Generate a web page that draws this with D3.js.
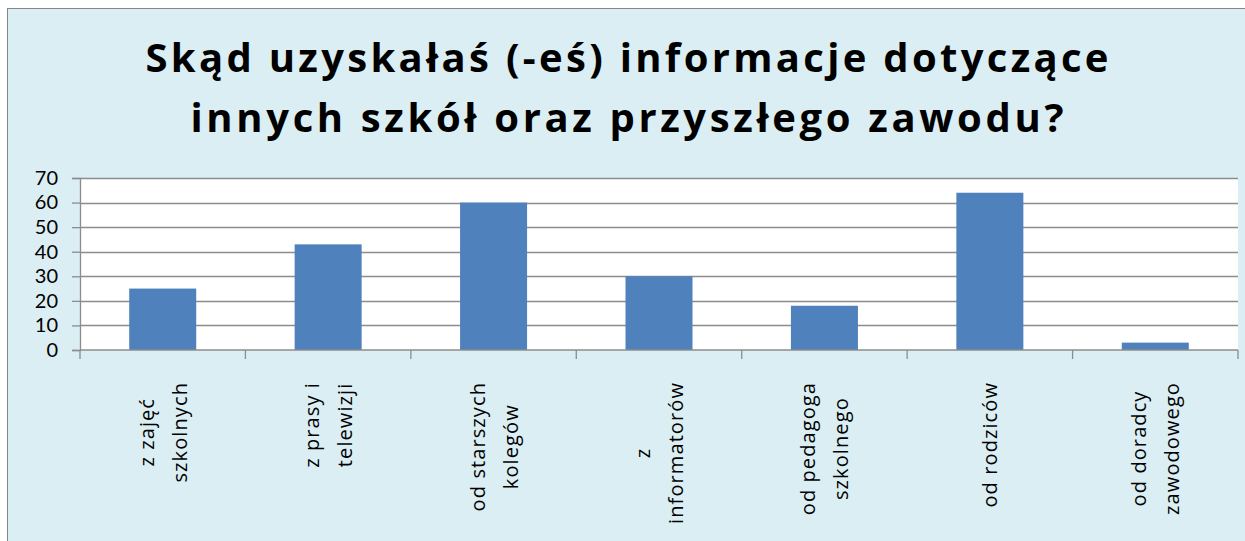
<!DOCTYPE html>
<html>
<head>
<meta charset="utf-8">
<script src="https://cdn.jsdelivr.net/npm/d3@7"></script>
<style>
  html, body { margin: 0; padding: 0; background: #ffffff; }
  svg { display: block; }
</style>
</head>
<body>
<svg id="chart" width="1245" height="541"></svg>
<script>
const titleLines = ["Skąd uzyskałaś (-eś) informacje dotyczące", "innych szkół oraz przyszłego zawodu?"];
const categories = ["z zajęć szkolnych", "z prasy i telewizji", "od starszych kolegów", "z informatorów", "od pedagoga szkolnego", "od rodziców", "od doradcy zawodowego"];
const labelLines = [["z zajęć", "szkolnych"], ["z prasy i", "telewizji"], ["od starszych", "kolegów"], ["z", "informatorów"], ["od pedagoga", "szkolnego"], ["od rodziców"], ["od doradcy", "zawodowego"]];
const values = [25, 43, 60, 30, 18, 64, 3];
const yTicks = [0, 10, 20, 30, 40, 50, 60, 70];

const svg = d3.select("#chart");
const W = 1245, H = 541;
const plot = { left: 80, right: 1238, top: 178, bottom: 350 };

// chart background + border
svg.append("rect").attr("x", 7.5).attr("y", 8.5).attr("width", W).attr("height", H)
  .attr("fill", "#DAEEF3").attr("stroke", "#868686").attr("stroke-width", 1);

// title
const title = svg.append("g");
const titleY = [72, 132];
const titleLen = [963, 873];
titleLines.forEach((t, i) => {
  title.append("text")
    .attr("x", 627).attr("y", titleY[i])
    .attr("text-anchor", "middle")
    .attr("font-family", "'Open Sans', sans-serif")
    .attr("font-weight", 700)
    .attr("font-size", 40)
    .attr("fill", "#000")
    .attr("textLength", titleLen[i])
    .attr("lengthAdjust", "spacing")
    .text(t);
});

// scales
const x = d3.scaleBand().domain(categories).range([plot.left, plot.right])
  .paddingInner(0.595).paddingOuter(0.2975);
const y = d3.scaleLinear().domain([0, 70]).range([plot.bottom, plot.top]);

// plot area
svg.append("rect").attr("x", plot.left).attr("y", plot.top)
  .attr("width", plot.right - plot.left).attr("height", plot.bottom - plot.top)
  .attr("fill", "#ffffff");

// gridlines
svg.append("g").selectAll("line").data(yTicks.filter(d => d > 0)).join("line")
  .attr("x1", plot.left).attr("x2", plot.right)
  .attr("y1", d => Math.round(y(d)) + 0.5).attr("y2", d => Math.round(y(d)) + 0.5)
  .attr("stroke", "#8C8C8C").attr("stroke-width", 1.3);

// bars
svg.append("g").selectAll("rect").data(values).join("rect")
  .attr("x", (d, i) => x(categories[i]))
  .attr("width", x.bandwidth())
  .attr("y", d => y(d))
  .attr("height", d => y(0) - y(d))
  .attr("fill", "#4F81BD");

// y axis
const yAxis = d3.axisLeft(y).tickValues(yTicks).tickSize(8).tickPadding(14);
const gy = svg.append("g").attr("transform", `translate(${plot.left},0)`).call(yAxis);
gy.select(".domain").attr("stroke", "#8C8C8C").attr("stroke-width", 1.3);
gy.selectAll(".tick line").attr("stroke", "#8C8C8C").attr("stroke-width", 1.3);
gy.selectAll(".tick text").attr("font-family", "Lato, sans-serif")
  .attr("font-size", 20).attr("fill", "#000");

// x axis line with boundary ticks
const step = x.step();
const boundaries = d3.range(categories.length + 1).map(i => plot.left + i * step);
svg.append("line").attr("x1", plot.left).attr("x2", plot.right)
  .attr("y1", plot.bottom).attr("y2", plot.bottom)
  .attr("stroke", "#8C8C8C").attr("stroke-width", 1.5);
svg.append("g").selectAll("line").data(boundaries).join("line")
  .attr("x1", d => d).attr("x2", d => d)
  .attr("y1", plot.bottom).attr("y2", plot.bottom + 9)
  .attr("stroke", "#8C8C8C").attr("stroke-width", 1.3);

// category labels (rotated)
const labelTop = 382;
const lineGap = 33;
labelLines.forEach((lines, i) => {
  const cx = x(categories[i]) + x.bandwidth() / 2;
  const g = svg.append("g");
  const texts = lines.map((ln, j) => {
    const off = (j - (lines.length - 1) / 2) * lineGap;
    return g.append("text")
      .attr("font-family", "'Open Sans', sans-serif")
      .attr("font-size", 20)
      .attr("letter-spacing", 1.1)
      .attr("fill", "#000")
      .attr("text-anchor", "middle")
      .attr("dominant-baseline", "central")
      .attr("data-off", off)
      .text(ln);
  });
  const maxLen = d3.max(texts, t => t.node().getComputedTextLength());
  const cy = labelTop + maxLen / 2;
  texts.forEach(t => {
    const off = +t.attr("data-off");
    t.attr("transform", `translate(${cx + off},${cy}) rotate(-90)`);
  });
});
</script>
</body>
</html>
